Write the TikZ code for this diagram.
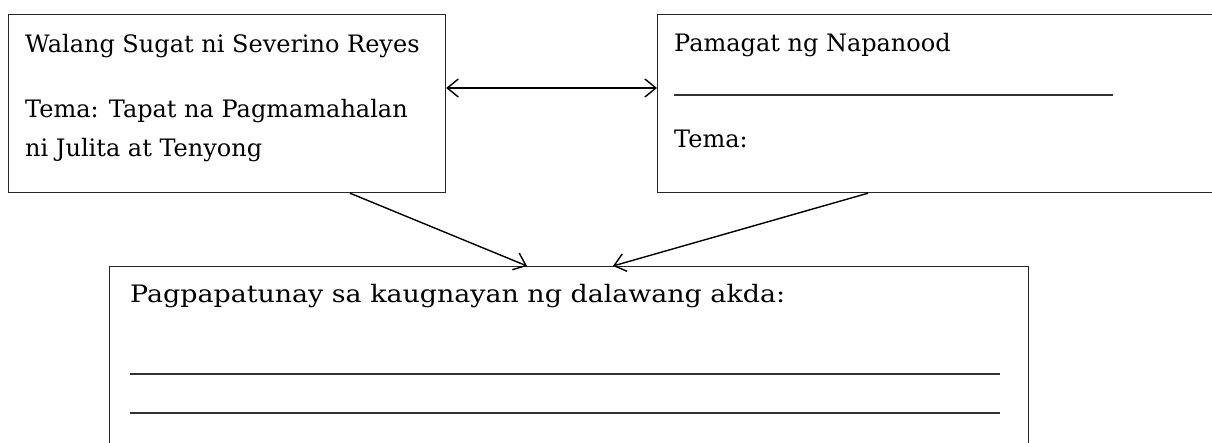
\documentclass[tikz,border=0pt]{standalone}
\usepackage{fontspec}
\setmainfont{DejaVu Serif}
\newfontfamily\widefont[FakeStretch=1.12]{DejaVu Serif}
\usetikzlibrary{arrows.meta}
\begin{document}
\begin{tikzpicture}[x=1pt,y=-1pt,
  box/.style={draw=black!85, line width=1.2pt, anchor=north west, inner sep=0pt},
  txt/.style={anchor=base west, inner sep=0pt, font=\fontsize{24}{29}\selectfont},
  widetxt/.style={anchor=base west, inner sep=0pt, font=\widefont\fontsize{24}{29}\selectfont},
  blank/.style={draw=black!80, line width=1.4pt},
  tip/.tip={Straight Barb[length=11pt,width=18pt,line width=1.4pt]},
  conn/.style={line width=1.4pt, -tip},
  conn2/.style={line width=1.4pt, tip-tip}]
\useasboundingbox (0,0) rectangle (1212,443);
\fill[white] (0,0) rectangle (1212,443);
\node[box, minimum width=437pt, minimum height=178pt] (b1) at (8,14) {};
\node[box, minimum width=570pt, minimum height=178pt] (b2) at (657,14) {};
\node[box, minimum width=919pt, minimum height=200pt] (b3) at (109,266) {};
\node[txt] (t1) at (25,53) {Walang Sugat ni Severino Reyes};
\node[txt] (t2) at (25,118) {Tema: Tapat na Pagmamahalan};
\node[txt] (t3) at (25,157) {ni Julita at Tenyong};
\node[txt] (t4) at (674,52) {Pamagat ng Napanood};
\node[txt] (t5) at (674,148) {Tema:};
\node[widetxt] (t6) at (130,303) {Pagpapatunay sa kaugnayan ng dalawang akda:};
\coordinate (l1a) at (674,95); \coordinate (l1b) at (1113,95);
\coordinate (l2a) at (130,374); \coordinate (l2b) at (1000,374);
\coordinate (l3a) at (130,413); \coordinate (l3b) at (1000,413);
\draw[blank] (l1a) -- (l1b);
\draw[blank] (l2a) -- (l2b);
\draw[blank] (l3a) -- (l3b);
\draw[conn2] ([yshift=-74pt]b1.north east) -- ([yshift=-74pt]b2.north west);
\draw[conn] ([xshift=342pt]b1.south west) -- ([xshift=418pt]b3.north west);
\draw[conn] ([xshift=211pt]b2.south west) -- ([xshift=504pt]b3.north west);
\end{tikzpicture}
\end{document}
